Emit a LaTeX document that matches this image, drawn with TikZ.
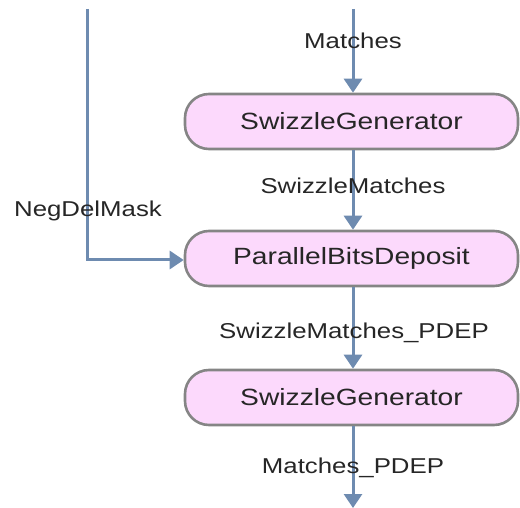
\documentclass[tikz,border=0pt]{standalone}
\usepackage{fontspec}
\setmainfont{Liberation Sans}[FakeStretch=1.2]
\usetikzlibrary{arrows.meta}
\definecolor{flow}{HTML}{6E8BB0}
\definecolor{boxfill}{HTML}{FCD9FC}
\definecolor{boxline}{HTML}{858585}
\begin{document}
\begin{tikzpicture}[x=1pt,y=-1pt,
  stage/.style={draw=boxline, line width=2.6pt, fill=boxfill, rounded corners=24pt,
    minimum width=333pt, minimum height=55pt, inner sep=0pt,
    font=\fontsize{23.5}{26}\selectfont, text=black!85},
  flowline/.style={draw=flow, line width=3pt, -{Triangle[length=14pt,width=18pt]}},
  lbl/.style={font=\fontsize{21.5}{24}\selectfont, text=black!85, inner sep=0pt}]
\useasboundingbox (0,0) rectangle (520,508);
\node[stage] (g1) at (351.5,121.5) {SwizzleGenerator};
\node[stage] (pd) at (351.5,258.5) {ParallelBitsDeposit};
\node[stage] (g2) at (351.5,397.5) {SwizzleGenerator};
\coordinate (top) at (353,9);
\coordinate (negtop) at (87,9);
\coordinate (bend) at (87,260);
\coordinate (end) at (353,508);
\draw[flowline] (top) -- (top |- g1.north);
\draw[flowline] (g1.south -| top) -- (pd.north -| top);
\draw[flowline] (pd.south -| top) -- (g2.north -| top);
\draw[flowline] (g2.south -| top) -- (end);
\draw[flowline] (negtop) -- (bend) -- (bend -| pd.west);
\node[lbl] (l1) at (353,41) {Matches};
\node[lbl] (l2) at (353,186) {SwizzleMatches};
\node[lbl] (l3) at (88,211) {NegDelMask};
\node[lbl] (l4) at (354,333) {SwizzleMatches\_PDEP};
\node[lbl] (l5) at (353,468) {Matches\_PDEP};
\end{tikzpicture}
\end{document}
